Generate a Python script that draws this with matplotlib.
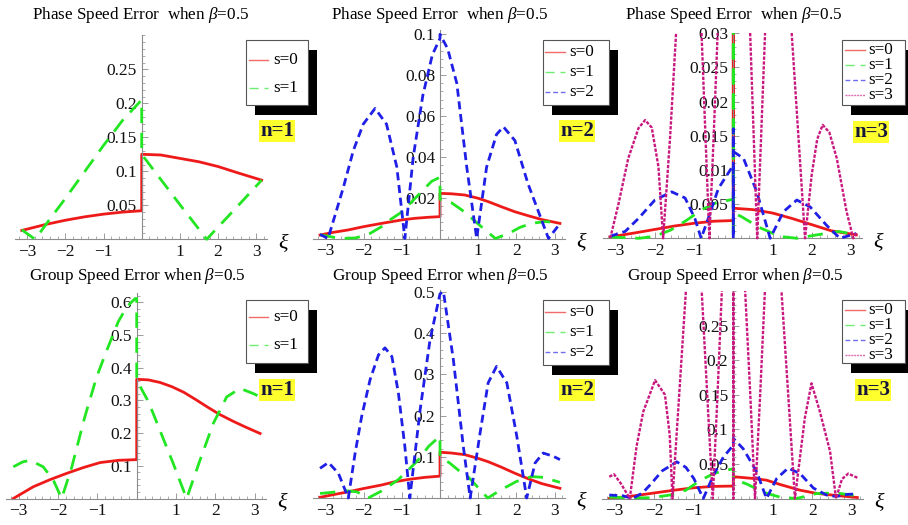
import matplotlib
matplotlib.use('Agg')
import matplotlib.pyplot as plt
from matplotlib.patches import Rectangle
from matplotlib.lines import Line2D
from matplotlib.ticker import FixedLocator

plt.rcParams['font.family'] = ['Liberation Serif', 'DejaVu Serif']
plt.rcParams['mathtext.fontset'] = 'custom'
plt.rcParams['mathtext.rm'] = 'Liberation Serif'
plt.rcParams['mathtext.it'] = 'Liberation Serif:italic'
plt.rcParams['lines.scale_dashes'] = False

# ---------------------------------------------------------------------
# data (xi, error); a repeated xi=0 is the jump
# ---------------------------------------------------------------------
# Phase speed error, n=1
ph1_s0_x = [-3.14, -2.5, -2.0, -1.5, -1.0, -0.5, 0, 0, 0.5, 1.0, 1.5, 2.0, 2.5, 3.14]
ph1_s0_y = [0.013, 0.022, 0.028, 0.033, 0.037, 0.040, 0.042, 0.125, 0.124, 0.119, 0.114, 0.107, 0.098, 0.087]
ph1_s1_x = [-3.14, -2.79, -2.4, -2.0, -1.5, -1.0, -0.5, 0, 0, 0.5, 1.0, 1.4, 1.70, 2.0, 2.5, 3.14]
ph1_s1_y = [0.014, 0.0, 0.03, 0.06, 0.099, 0.138, 0.175, 0.205, 0.125, 0.088, 0.051, 0.022, 0.0, 0.018, 0.048, 0.087]

# Phase speed error, n=2
ph2_s0_x = [-3.14, -2.8, -2.4, -2.0, -1.53, -1.0, -0.65, -0.3, 0, 0, 0.3, 0.65, 1.0, 1.27, 1.6, 1.96, 2.3, 2.66, 3.14]
ph2_s0_y = [0.0017, 0.003, 0.0042, 0.0058, 0.0074, 0.0091, 0.0099, 0.0104, 0.0107, 0.0221, 0.0219, 0.0213,
            0.0197, 0.018, 0.0156, 0.0131, 0.0112, 0.0093, 0.0074]
ph2_s1_x = [-3.14, -2.9, -2.6, -2.2, -1.83, -1.53, -1.31, -1.0, -0.74, -0.48, -0.22, 0, 0, 0.3, 0.57, 0.83,
            1.18, 1.45, 1.8, 2.1, 2.4, 2.75, 3.14]
ph2_s1_y = [0.0018, 0.001, 0.0, 0.0003, 0.0025, 0.0058, 0.0091, 0.013, 0.018, 0.023, 0.028, 0.030, 0.0192,
            0.0175, 0.014, 0.0099, 0.0042, 0.0, 0.0025, 0.0055, 0.0074, 0.0083, 0.0077]
ph2_s2_x = [-3.14, -2.93, -2.53, -2.27, -2.01, -1.7, -1.4, -1.13, -0.92, -0.7, -0.45, -0.2, 0, 0, 0.2, 0.44,
            0.7, 0.96, 1.22, 1.48, 1.66, 1.96, 2.3, 2.6, 2.84, 3.14]
ph2_s2_y = [0.002, 0.0, 0.025, 0.043, 0.056, 0.0637, 0.056, 0.035, 0.0, 0.04, 0.07, 0.09, 0.098, 0.1, 0.093,
            0.076, 0.035, 0.0, 0.035, 0.051, 0.0547, 0.048, 0.027, 0.012, 0.0, 0.0073]

# Phase speed error, n=3
ph3_s0_x = [-3.14, -2.5, -2.0, -1.5, -1.0, -0.5, 0, 0, 0, 0.5, 1.0, 1.5, 2.0, 2.5, 3.14]
ph3_s0_y = [0.0002, 0.0008, 0.0013, 0.0018, 0.0022, 0.0025, 0.0026, 0.031, 0.0044, 0.0042, 0.0037, 0.0029,
            0.002, 0.0011, 0.0005]
ph3_s1_x = [-3.14, -2.8, -2.4, -2.0, -1.6, -1.2, -0.8, -0.4, 0, 0, 0, 0, 0.2, 0.43, 0.7, 1.02, 1.3, 1.62,
            2.13, 2.7, 3.14]
ph3_s1_y = [0.0002, 0.0001, 0.0, 0.0003, 0.0012, 0.0026, 0.0042, 0.0053, 0.0057, 0.0, 0.031, 0.0037, 0.0032,
            0.0024, 0.0015, 0.0007, 0.0002, 0.0, 0.0005, 0.001, 0.0005]
ph3_s2_x = [-3.14, -2.76, -2.42, -2.0, -1.57, -1.23, -0.98, -0.82, -0.64, -0.38, 0, 0, 0, 0, 0.26, 0.6, 0.94,
            1.28, 1.62, 1.96, 2.38, 2.72, 3.14]
ph3_s2_y = [0.0003, 0.001, 0.0029, 0.0056, 0.0068, 0.0059, 0.0029, 0.0, 0.0029, 0.0073, 0.0107, 0.0, 0.016,
            0.0127, 0.0117, 0.0068, 0.0, 0.0039, 0.0056, 0.0046, 0.0019, 0.0, 0.0007]
ph3_s3_x = [-3.14, -2.93, -2.68, -2.42, -2.25, -2.08, -1.91, -1.79, -1.61, -1.46, -1.13, -0.81, -0.71, -0.61,
            -0.5, -0.40, -0.2, 0, 0, 0.2, 0.43, 0.52, 0.61, 0.71, 0.81, 1.15, 1.49, 1.66, 1.83, 2.0, 2.14, 2.28,
            2.45, 2.64, 2.89, 3.06, 3.14]
ph3_s3_y = [0.0, 0.005, 0.0117, 0.0161, 0.0173, 0.0162, 0.0105, 0.0, 0.015, 0.03, 0.06, 0.03, 0.015, 0.0,
            0.015, 0.03, 0.06, 0.08, 0.08, 0.06, 0.03, 0.015, 0.0, 0.015, 0.03, 0.06, 0.03, 0.015, 0.0, 0.0093,
            0.0145, 0.0166, 0.0155, 0.0117, 0.0039, 0.0, 0.0008]

# Group speed error, n=1
gr1_s0_x = [-3.14, -2.63, -2.2, -1.78, -1.35, -0.93, -0.45, 0, 0, 0.3, 0.6, 0.9, 1.2, 1.5, 1.8, 2.1, 2.46,
            2.8, 3.14]
gr1_s0_y = [0.0, 0.036, 0.058, 0.077, 0.095, 0.110, 0.117, 0.119, 0.365, 0.363, 0.355, 0.342, 0.325, 0.303,
            0.28, 0.258, 0.236, 0.217, 0.199]
gr1_s1_x = [-3.14, -2.9, -2.71, -2.38, -2.12, -1.91, -1.65, -1.32, -1.02, -0.76, -0.47, -0.25, -0.04, 0, 0,
            0.3, 0.59, 0.93, 1.27, 1.61, 1.95, 2.29, 2.63, 2.97, 3.14]
gr1_s1_y = [0.097, 0.112, 0.117, 0.097, 0.056, 0.0, 0.097, 0.25, 0.372, 0.454, 0.541, 0.587, 0.612, 0.612,
            0.362, 0.296, 0.209, 0.107, 0.0, 0.117, 0.23, 0.311, 0.337, 0.321, 0.311]

# Group speed error, n=2
gr2_s0_x = [-3.14, -2.8, -2.4, -2.0, -1.53, -1.2, -0.83, -0.4, 0, 0, 0.3, 0.65, 1.0, 1.26, 1.6, 1.96, 2.3,
            2.66, 3.14]
gr2_s0_y = [0.0017, 0.008, 0.015, 0.023, 0.0315, 0.039, 0.045, 0.05, 0.053, 0.111, 0.109, 0.105, 0.096, 0.088,
            0.075, 0.06, 0.047, 0.035, 0.0235]
gr2_s1_x = [-3.14, -2.8, -2.49, -2.18, -1.88, -1.53, -1.1, -0.83, -0.57, -0.3, 0, 0, 0.25, 0.5, 0.75, 1.0,
            1.25, 1.6, 2.0, 2.4, 2.7, 3.14]
gr2_s1_y = [0.011, 0.014, 0.018, 0.015, 0.0, 0.017, 0.044, 0.068, 0.092, 0.125, 0.15, 0.1, 0.085, 0.066,
            0.05, 0.025, 0.0, 0.02, 0.04, 0.052, 0.05, 0.038]
gr2_s2_x = [-3.14, -2.92, -2.66, -2.4, -2.22, -2.05, -1.83, -1.61, -1.44, -1.26, -1.09, -0.92, -0.79, -0.52,
            -0.26, 0, 0, 0.09, 0.35, 0.61, 0.79, 1.05, 1.26, 1.48, 1.75, 2.01, 2.27, 2.49, 2.70, 2.97, 3.14]
gr2_s2_y = [0.072, 0.086, 0.060, 0.0, 0.11, 0.198, 0.287, 0.347, 0.364, 0.343, 0.255, 0.125, 0.0, 0.214,
            0.384, 0.495, 0.495, 0.5, 0.335, 0.125, 0.0, 0.158, 0.279, 0.319, 0.279, 0.15, 0.0, 0.085, 0.109,
            0.101, 0.093]

# Group speed error, n=3
gr3_s0_x = [-3.14, -2.5, -2.0, -1.5, -1.0, -0.5, 0, 0, 0.5, 0.84, 1.2, 1.69, 2.1, 2.53, 3.14]
gr3_s0_y = [0.0, 0.004, 0.008, 0.012, 0.0155, 0.0175, 0.018, 0.0315, 0.029, 0.0265, 0.02, 0.012, 0.0075,
            0.0048, 0.0014]
gr3_s1_x = [-3.14, -2.6, -2.1, -1.6, -1.2, -0.84, -0.5, -0.25, 0, 0, 0.34, 0.76, 1.18, 1.6, 2.11, 2.6, 3.14]
gr3_s1_y = [0.002, 0.001, 0.001, 0.005, 0.012, 0.026, 0.036, 0.04, 0.043, 0.028, 0.021, 0.009, 0.002, 0.0,
            0.0072, 0.008, 0.004]
gr3_s2_x = [-3.14, -2.8, -2.55, -2.3, -2.1, -1.8, -1.43, -1.2, -1.0, -0.76, -0.5, -0.25, 0, 0, 0.25, 0.59,
            0.84, 1.1, 1.39, 1.69, 2.03, 2.36, 2.6, 2.9, 3.14]
gr3_s2_y = [0.005, 0.004, 0.0, 0.008, 0.02, 0.04, 0.053, 0.045, 0.029, 0.0, 0.034, 0.06, 0.077, 0.087, 0.072,
            0.039, 0.0, 0.029, 0.044, 0.036, 0.015, 0.005, 0.003, 0.006, 0.0067]
gr3_s3_x = [-3.14, -3.02, -2.85, -2.62, -2.45, -2.28, -1.98, -1.73, -1.61, -1.54, -1.37, -1.2, -1.0, -0.8,
            -0.66, -0.52, -0.4, -0.29, -0.15, 0, 0, 0, 0.15, 0.3, 0.43, 0.55, 0.68, 0.8, 1.0, 1.22, 1.39, 1.56,
            1.81, 1.98, 2.19, 2.45, 2.6, 2.75, 2.91, 3.14]
gr3_s3_y = [0.0315, 0.035, 0.022, 0.0, 0.075, 0.1255, 0.171, 0.15, 0.092, 0.0, 0.15, 0.3, 0.45, 0.3, 0.15,
            0.0, 0.15, 0.3, 0.5, 0.6, 0.0, 0.6, 0.5, 0.3, 0.15, 0.0, 0.15, 0.3, 0.45, 0.3, 0.15, 0.0, 0.116,
            0.1665, 0.126, 0.068, 0.0, 0.028, 0.036, 0.03]

xi_ticks = [-3, -2, -1, 1, 2, 3]
xi_ticklabels = ['\u22123', '\u22122', '\u22121', '1', '2', '3']
xi_minor = [-3.2, -3.0, -2.8, -2.6, -2.4, -2.2, -1.8, -1.6, -1.4, -1.2, -0.8, -0.6, -0.4, -0.2,
            0.2, 0.4, 0.6, 0.8, 1.2, 1.4, 1.6, 1.8, 2.2, 2.4, 2.6, 2.8, 3.2]

ph1_yticks = [0.05, 0.1, 0.15, 0.2, 0.25]
ph2_yticks = [0.02, 0.04, 0.06, 0.08, 0.1]
ph3_yticks = [0.005, 0.01, 0.015, 0.02, 0.025, 0.03]
gr1_yticks = [0.1, 0.2, 0.3, 0.4, 0.5, 0.6]
gr2_yticks = [0.1, 0.2, 0.3, 0.4, 0.5]
gr3_yticks = [0.05, 0.1, 0.15, 0.2, 0.25]

labels_s = ['s=0', 's=1', 's=2', 's=3']
phase_title = 'Phase Speed Error  when $\\beta$=0.5'
group_title = 'Group Speed Error when $\\beta$=0.5'

# ---------------------------------------------------------------------
# styles
# ---------------------------------------------------------------------
colors = ['#ee1a1a', '#22e622', '#1f1fe6', '#c8187f']
widths = [2.0, 2.0, 2.0, 1.7]
dashes = [None, (11, 7), (5.8, 3.4), (2.4, 1.1)]

W, H = 908, 525
fig = plt.figure(figsize=(W / 100, H / 100), dpi=100)
fig.patch.set_facecolor('white')

XLO, XHI = -3.32, 3.28
AX_GRAY = '#8c8c8c'


def fx(x):
    return x / W


def fy(y):
    return 1 - y / H


def make_panel(x0, y0, sx, sy, ymax, yticks):
    ylo = -0.012 * ymax
    left, right = x0 + XLO * sx, x0 + XHI * sx
    top, bottom = y0 - ymax * sy, y0 - ylo * sy
    ax = fig.add_axes([fx(left), fy(bottom), (right - left) / W, (bottom - top) / H])
    ax.set_xlim(XLO, XHI)
    ax.set_ylim(ylo, ymax)
    ax.patch.set_visible(False)
    for side in ['top', 'right']:
        ax.spines[side].set_visible(False)
    ax.spines['left'].set_position(('data', 0))
    ax.spines['bottom'].set_position(('data', 0))
    ax.spines['left'].set_bounds(0, ymax)
    for side in ['left', 'bottom']:
        ax.spines[side].set_color(AX_GRAY)
        ax.spines[side].set_linewidth(0.8)
    ax.xaxis.set_major_locator(FixedLocator(xi_ticks))
    ax.set_xticklabels(xi_ticklabels)
    ax.xaxis.set_minor_locator(FixedLocator(xi_minor))
    ax.yaxis.set_major_locator(FixedLocator(yticks))
    ax.set_yticklabels([('%g' % t) for t in yticks])
    step = yticks[1] - yticks[0]
    ax.yaxis.set_minor_locator(FixedLocator([step / 5 * k for k in range(1, int(round(ymax / step * 5)) + 1)]))
    ax.tick_params(which='major', direction='in', length=4, width=0.6, color=AX_GRAY,
                   labelsize=12.5, pad=3.5, labelcolor='#111111')
    ax.tick_params(which='minor', direction='in', length=2, width=0.5, color=AX_GRAY)
    ax.annotate('$\\xi$', xy=(1, 0), xycoords=('axes fraction', 'data'), xytext=(8, -2),
                textcoords='offset points', fontsize=16, ha='left', va='center',
                annotation_clip=False)
    return ax


def draw_series(ax, series):
    for k, (xs, ys) in enumerate(series):
        line, = ax.plot(xs, ys, color=colors[k], lw=widths[k], solid_joinstyle='round',
                        dash_joinstyle='round', zorder=2 + k)
        if dashes[k] is not None:
            line.set_dashes(dashes[k])


def draw_legend(box, rows, sample_x, text_x, n):
    x0, y0, x1, y1 = box
    fig.add_artist(Rectangle((fx(x0 + 9), fy(y1 + 10)), (x1 - x0) / W, (y1 - y0) / H,
                             transform=fig.transFigure, fc='black', ec='none', zorder=5))
    fig.add_artist(Rectangle((fx(x0), fy(y1)), (x1 - x0) / W, (y1 - y0) / H,
                             transform=fig.transFigure, fc='white', ec='#555555', lw=0.8, zorder=6))
    for k in range(n):
        ln = Line2D([fx(sample_x[0]), fx(sample_x[1])], [fy(rows[k])] * 2, transform=fig.transFigure,
                    color=colors[k], lw=1.0, alpha=0.65, zorder=7)
        if dashes[k] is not None:
            ln.set_dashes((dashes[k][0] * 0.6, dashes[k][1] * 0.6))
        fig.add_artist(ln)
        fig.text(fx(text_x), fy(rows[k]), labels_s[k], fontsize=12.3, ha='left', va='center', zorder=7)


def n_label(x, y, text):
    fig.text(fx(x), fy(y), text, fontsize=15, fontweight='bold', color='#16163c', ha='center', va='center',
             zorder=8, bbox=dict(boxstyle='square,pad=0.06', fc='#ffff2e', ec='none'))


# ---------------------------------------------------------------------
# panels
# ---------------------------------------------------------------------
ax1 = make_panel(141.7, 239.3, 38.2, 680.0, 0.30, ph1_yticks)
draw_series(ax1, [(ph1_s0_x, ph1_s0_y), (ph1_s1_x, ph1_s1_y)])

ax2 = make_panel(440.0, 238.5, 38.2, 2041.7, 0.102, ph2_yticks)
draw_series(ax2, [(ph2_s0_x, ph2_s0_y), (ph2_s1_x, ph2_s1_y), (ph2_s2_x, ph2_s2_y)])

ax3 = make_panel(733.3, 238.3, 39.2, 6833.0, 0.030, ph3_yticks)
draw_series(ax3, [(ph3_s0_x, ph3_s0_y), (ph3_s1_x, ph3_s1_y), (ph3_s2_x, ph3_s2_y), (ph3_s3_x, ph3_s3_y)])

ax4 = make_panel(136.7, 498.5, 39.3, 326.7, 0.63, gr1_yticks)
draw_series(ax4, [(gr1_s0_x, gr1_s0_y), (gr1_s1_x, gr1_s1_y)])

ax5 = make_panel(440.0, 498.0, 38.2, 412.5, 0.505, gr2_yticks)
draw_series(ax5, [(gr2_s0_x, gr2_s0_y), (gr2_s1_x, gr2_s1_y), (gr2_s2_x, gr2_s2_y)])

ax6 = make_panel(733.3, 498.5, 39.5, 691.7, 0.30, gr3_yticks)
draw_series(ax6, [(gr3_s0_x, gr3_s0_y), (gr3_s1_x, gr3_s1_y), (gr3_s2_x, gr3_s2_y), (gr3_s3_x, gr3_s3_y)])

# titles
for cx in [141, 440, 734]:
    fig.text(fx(cx), fy(15), phase_title, fontsize=12.3, ha='center', va='center')
for cx in [137, 440, 735]:
    fig.text(fx(cx), fy(276), group_title, fontsize=12.3, ha='center', va='center')

# legends
draw_legend((246, 40, 308, 105), [60, 88], (249, 268), 273, 2)
draw_legend((543, 40, 609, 105), [52, 72, 92], (545, 565), 569, 3)
draw_legend((842, 40, 905, 105), [50, 65, 80, 95], (845, 865), 868, 4)
draw_legend((246, 300, 308, 363), [317, 345], (249, 268), 273, 2)
draw_legend((543, 300, 609, 365), [312, 332, 352], (545, 565), 569, 3)
draw_legend((842, 300, 905, 363), [310, 325, 340, 355], (845, 865), 868, 4)

n_label(277, 131, 'n=1')
n_label(577, 131, 'n=2')
n_label(871, 132, 'n=3')
n_label(277, 390, 'n=1')
n_label(577, 390, 'n=2')
n_label(873, 390, 'n=3')

fig.savefig('out.png', dpi=100)
